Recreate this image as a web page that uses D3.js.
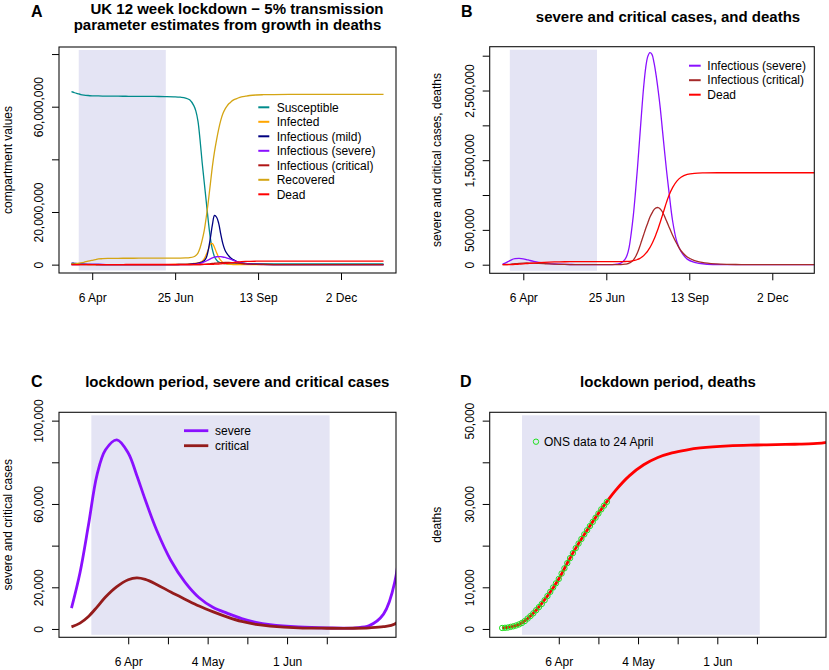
<!DOCTYPE html>
<html><head><meta charset="utf-8">
<script src="https://cdn.jsdelivr.net/npm/d3@7"></script>
<style>
body{margin:0;background:#fff}
svg{display:block}
text{font-family:"Liberation Sans",Arial,Helvetica,sans-serif;fill:#000}
</style>
</head><body>
<svg id="chart" width="829" height="670"></svg>
<script>
// ---------------- DATA (days relative to 6 April 2020; values in thousands) ----------------
const days = [-20,-17,-14,-11,-8,-4,0,3,6,10,15,20,25,30,35,40,45,50,60,70,80,85,90,94,
  98,100,102,104,106,108,110,112,114,116,118,120,122,124,126,128,130,132,134,136,138,140,
  144,148,152,158,165,175,190,210,240,281];

const susceptible = [65700,65300,64950,64600,64400,64250,64150,64100,64080,64050,64020,64000,63980,63970,63960,63950,63940,63930,63900,63850,63750,63600,63300,62600,
  60400,58300,54500,47500,39000,31500,24000,16500,10000,5600,3000,1700,1000,700,500,400,330,300,280,270,260,255,
  250,250,250,250,250,250,250,250,250,250];
const infected = [400,260,170,115,80,52,38,31,26,21,16,13,11,9.5,8.5,8,8,8.5,11,20,45,70,130,250,
  450,550,680,850,1300,2200,3800,5800,7850,8000,6500,4500,2800,1600,900,500,280,160,90,50,30,20,
  8,4,2,1,0.5,0.2,0.1,0,0,0];
const mild = [600,480,350,250,175,115,80,62,50,38,27,20,15.5,12.5,10.5,9.5,9,9,10,15,35,60,110,200,
  330,420,550,720,1000,1500,2600,5600,10200,15300,18700,18000,15700,11600,8000,5600,4200,3200,2400,1900,1500,1100,
  700,450,300,150,70,30,10,3,1,0.5];
const severe = [10,27,50,74,86,90.8,84.5,73.8,62,47.5,33,22.5,15,10.3,7.5,5.0,3.2,2.1,0.95,0.5,0.55,1.6,7.1,22.7,
  75,135,250,450,700,1020,1380,1780,2180,2550,2830,2990,3045,3020,2900,2720,2500,2250,1950,1650,1360,1100,
  620,330,190,80,35,10,2,0.5,0.2,0.1];
const critical = [1.0,2.8,6.0,10.5,15.3,20.3,23.6,24.5,23.8,21.4,17.7,14.3,11.0,8.2,5.7,3.6,2.2,1.4,0.55,0.35,0.35,0.55,1.1,2.4,
  7.7,13,23,40,65,110,170,250,340,430,520,600,680,740,790,815,820,800,760,700,630,560,
  420,300,200,110,60,25,7,2,0.5,0.2];
const recovered = [250,320,450,650,900,1300,1650,1900,2150,2250,2350,2400,2410,2420,2425,2430,2435,2440,2445,2450,2460,2480,2540,2650,
  3000,3500,4400,6300,9200,12800,18000,24000,30800,37500,43000,47500,51500,54800,57300,59000,60200,61200,61900,62500,62900,63200,
  63700,64000,64250,64450,64550,64620,64660,64680,64700,64700];
const dead = [0.24,0.5,1.1,2.5,4.5,7.9,12.0,15.8,19.4,23.7,28.7,33.2,36.8,39.4,41.15,42.25,42.95,43.45,43.95,44.15,44.28,44.37,44.5,44.7,
  46,47,49,52,57,64,75,88,106,130,162,200,245,300,365,440,520,610,705,800,895,980,
  1110,1200,1255,1295,1312,1318,1320,1320,1320,1320];

const onsDays = [-20,-19,-18,-17,-16,-15,-14,-13,-12,-11,-10,-9,-8,-7,-6,-5,-4,-3,-2,-1,0,1,2,3,4,5,6,7,8,9,10,11,12,13,14,15,16,17];
const onsDeaths = [0.24,0.28,0.34,0.5,0.65,0.85,1.1,1.45,1.9,2.5,3.1,3.75,4.5,5.25,6.0,6.9,7.9,8.9,9.95,10.95,12.0,13.3,14.55,15.8,17.0,18.2,19.4,20.5,21.6,22.7,23.7,24.7,25.7,26.7,27.7,28.7,29.6,30.5];

const lockdownStartDay = -13;   // 24 March
const lockdownEndDay = 71;      // 16 June

const longTickDays = [0,80,160,240];
const longTickLabels = ["6 Apr","25 Jun","13 Sep","2 Dec"];
const shortTickDays = [0,14,28,42,56,70];
const shortTickLabels = ["6 Apr","","4 May","","1 Jun",""];

const ticksA = [0,20e6,40e6,60e6,80e6];
const tickLabelsA = ["0","20,000,000","","60,000,000",""];
const ticksB = [0,0.5e6,1e6,1.5e6,2e6,2.5e6,3e6];
const tickLabelsB = ["0","500,000","","1,500,000","","2,500,000",""];
const ticksC = [0,20000,40000,60000,80000,100000];
const tickLabelsC = ["0","20,000","","60,000","","100,000"];
const ticksD = [0,10000,20000,30000,40000,50000];
const tickLabelsD = ["0","10,000","","30,000","","50,000"];

const legendA = ["Susceptible","Infected","Infectious (mild)","Infectious (severe)","Infectious (critical)","Recovered","Dead"];
const legendB = ["Infectious (severe)","Infectious (critical)","Dead"];
const legendC = ["severe","critical"];
const legendD = "ONS data to 24 April";

// ---------------- STYLE ----------------
const SHADE = "#E4E4F4";
const COL = {S:"#008B8B", E:"#FFA500", M:"#000080", SEV:"#8A10FF", CRIT_A:"#B01515", CRIT_B:"#A52A2A", CRIT_C:"#941C1C", R:"#D4A514", D:"#FF0000", ONS:"#22E022"};

const svg = d3.select("#chart");
const ORIGIN = Date.UTC(2020, 3, 6);
const toDate = d => new Date(ORIGIN + d * 864e5);
const K = 1000;

function makePanel(p) {
  const b = p.box;
  const g = svg.append("g");
  const x = d3.scaleUtc().domain([toDate(p.xDom[0]), toDate(p.xDom[1])]).range([b.left, b.right]);
  const y = d3.scaleLinear().domain(p.yDom).range([b.bottom, b.top]);
  const clipId = "clip" + p.id;
  svg.append("clipPath").attr("id", clipId).append("rect")
    .attr("x", b.left).attr("y", b.top).attr("width", b.right - b.left).attr("height", b.bottom - b.top);

  // lockdown shading
  g.append("rect")
    .attr("x", x(toDate(lockdownStartDay)))
    .attr("width", x(toDate(lockdownEndDay)) - x(toDate(lockdownStartDay)))
    .attr("y", b.top + 3).attr("height", b.bottom - b.top - 5.5)
    .attr("fill", SHADE);

  const plot = g.append("g").attr("clip-path", `url(#${clipId})`);
  const line = d3.line().x(q => x(toDate(q.d))).y(q => y(q.v)).curve(d3.curveCatmullRom.alpha(0.5));
  p.series.forEach(s => {
    const pts = days.map((d, i) => ({d, v: s.values[i] * K}));
    plot.append("path").datum(pts).attr("fill", "none")
      .attr("stroke", s.color).attr("stroke-width", s.width)
      .attr("stroke-linejoin", "round").attr("d", line);
  });
  if (p.points) {
    plot.selectAll("circle.ons").data(p.points.days.map((d, i) => ({d, v: p.points.values[i] * K})))
      .join("circle").attr("class", "ons")
      .attr("cx", q => x(toDate(q.d))).attr("cy", q => y(q.v)).attr("r", 2.7)
      .attr("fill", "none").attr("stroke", COL.ONS).attr("stroke-width", 1);
  }

  // x axis
  const xa = g.append("g").attr("transform", `translate(0,${b.bottom})`)
    .call(d3.axisBottom(x).tickValues(p.xTicks.map(toDate)).tickFormat((d, i) => p.xTickLabels[i]).tickSize(7).tickSizeOuter(0));
  xa.select(".domain").remove();
  xa.selectAll("line").attr("stroke", "#000");
  xa.selectAll("text").attr("y", 29).attr("dy", null).attr("font-size", 12).attr("font-family", null);

  // y axis
  const ya = g.append("g").attr("transform", `translate(${b.left},0)`)
    .call(d3.axisLeft(y).tickValues(p.yTicks).tickFormat((d, i) => p.yTickLabels[i]).tickSize(7).tickSizeOuter(0));
  ya.select(".domain").remove();
  ya.selectAll("line").attr("stroke", "#000");
  ya.selectAll("text").attr("transform", "rotate(-90)").attr("x", 0).attr("y", -16).attr("dy", null)
    .attr("text-anchor", "middle").attr("font-size", 12).attr("font-family", null);

  // box
  g.append("rect").attr("x", b.left).attr("y", b.top).attr("width", b.right - b.left).attr("height", b.bottom - b.top)
    .attr("fill", "none").attr("stroke", "#111").attr("stroke-width", 1.1);

  // y axis title
  g.append("text").attr("transform", `translate(${b.left - p.yTitleOff},${(b.top + b.bottom) / 2}) rotate(-90)`)
    .attr("text-anchor", "middle").attr("font-size", 12).text(p.yTitle);

  // panel letter
  g.append("text").attr("x", p.letterX).attr("y", p.letterY).attr("font-size", 16).attr("font-weight", "bold").text(p.letter);

  // titles
  p.titles.forEach(t => {
    g.append("text").attr("x", t.x).attr("y", t.y).attr("text-anchor", "middle")
      .attr("font-size", 15).attr("font-weight", "bold").text(t.text);
  });

  // legend
  if (p.legend) {
    const L = p.legend;
    L.labels.forEach((lab, i) => {
      const yy = L.y + i * L.dy;
      g.append("line").attr("x1", L.x1).attr("x2", L.x2).attr("y1", yy).attr("y2", yy)
        .attr("stroke", L.colors[i]).attr("stroke-width", L.width);
      g.append("text").attr("x", L.tx).attr("y", yy).attr("dy", "0.35em").attr("font-size", 12).text(lab);
    });
  }
  return {g, x, y};
}

// Panel A
makePanel({
  id: "A", box: {left: 59, right: 396, top: 47, bottom: 273},
  xDom: [-32.04, 293.04], yDom: [-3.18e6, 82.68e6],
  series: [
    {values: susceptible, color: COL.S, width: 1.3},
    {values: infected, color: COL.E, width: 1.3},
    {values: mild, color: COL.M, width: 1.3},
    {values: severe, color: COL.SEV, width: 1.3},
    {values: critical, color: COL.CRIT_A, width: 1.3},
    {values: recovered, color: COL.R, width: 1.3},
    {values: dead, color: COL.D, width: 1.3}
  ],
  xTicks: longTickDays, xTickLabels: longTickLabels,
  yTicks: ticksA, yTickLabels: tickLabelsA,
  yTitle: "compartment values", yTitleOff: 47,
  letter: "A", letterX: 31, letterY: 16.5,
  titles: [{x: 237, y: 13.6, text: "UK 12 week lockdown \u2212 5% transmission"},
           {x: 227.5, y: 29.5, text: "parameter estimates from growth in deaths"}],
  legend: {labels: legendA, colors: [COL.S, COL.E, COL.M, COL.SEV, COL.CRIT_A, COL.R, COL.D],
           x1: 258.3, x2: 269.3, tx: 276.7, y: 107.3, dy: 14.5, width: 2}
});

// Panel B
makePanel({
  id: "B", box: {left: 489.7, right: 814.3, top: 46.7, bottom: 273.3},
  xDom: [-32.4, 280.5], yDom: [-0.1234e6, 3.129e6],
  series: [
    {values: severe, color: COL.SEV, width: 1.3},
    {values: critical, color: COL.CRIT_B, width: 1.3},
    {values: dead, color: COL.D, width: 1.3}
  ],
  xTicks: longTickDays, xTickLabels: longTickLabels,
  yTicks: ticksB, yTickLabels: tickLabelsB,
  yTitle: "severe and critical cases, deaths", yTitleOff: 48.5,
  letter: "B", letterX: 461, letterY: 16.5,
  titles: [{x: 668, y: 21.5, text: "severe and critical cases, and deaths"}],
  legend: {labels: legendB, colors: [COL.SEV, COL.CRIT_B, COL.D],
           x1: 689, x2: 700.7, tx: 707.3, y: 65.7, dy: 14.5, width: 2}
});

// Panel C
makePanel({
  id: "C", box: {left: 59, right: 396, top: 412.3, bottom: 637.3},
  xDom: [-24.4, 94.4], yDom: [-4000, 104000],
  series: [
    {values: severe, color: COL.SEV, width: 2.8},
    {values: critical, color: COL.CRIT_C, width: 2.8}
  ],
  xTicks: shortTickDays, xTickLabels: shortTickLabels,
  yTicks: ticksC, yTickLabels: tickLabelsC,
  yTitle: "severe and critical cases", yTitleOff: 47,
  letter: "C", letterX: 31, letterY: 387.3,
  titles: [{x: 237.3, y: 387.3, text: "lockdown period, severe and critical cases"}],
  legend: {labels: legendC, colors: [COL.SEV, COL.CRIT_C],
           x1: 184, x2: 208.3, tx: 215, y: 430.7, dy: 15, width: 2.8}
});

// Panel D
const pd = makePanel({
  id: "D", box: {left: 489.7, right: 826, top: 412.3, bottom: 637.3},
  xDom: [-24.4, 94.4], yDom: [-2000, 52000],
  series: [
    {values: dead, color: COL.D, width: 2.8}
  ],
  points: {days: onsDays, values: onsDeaths},
  xTicks: shortTickDays, xTickLabels: shortTickLabels,
  yTicks: ticksD, yTickLabels: tickLabelsD,
  yTitle: "deaths", yTitleOff: 48.5,
  letter: "D", letterX: 460, letterY: 387.3,
  titles: [{x: 668, y: 387.3, text: "lockdown period, deaths"}]
});
pd.g.append("circle").attr("cx", 536).attr("cy", 441.7).attr("r", 2.7)
  .attr("fill", "none").attr("stroke", COL.ONS).attr("stroke-width", 1);
pd.g.append("text").attr("x", 544).attr("y", 441.7).attr("dy", "0.35em").attr("font-size", 12).text(legendD);
</script>
</body></html>
